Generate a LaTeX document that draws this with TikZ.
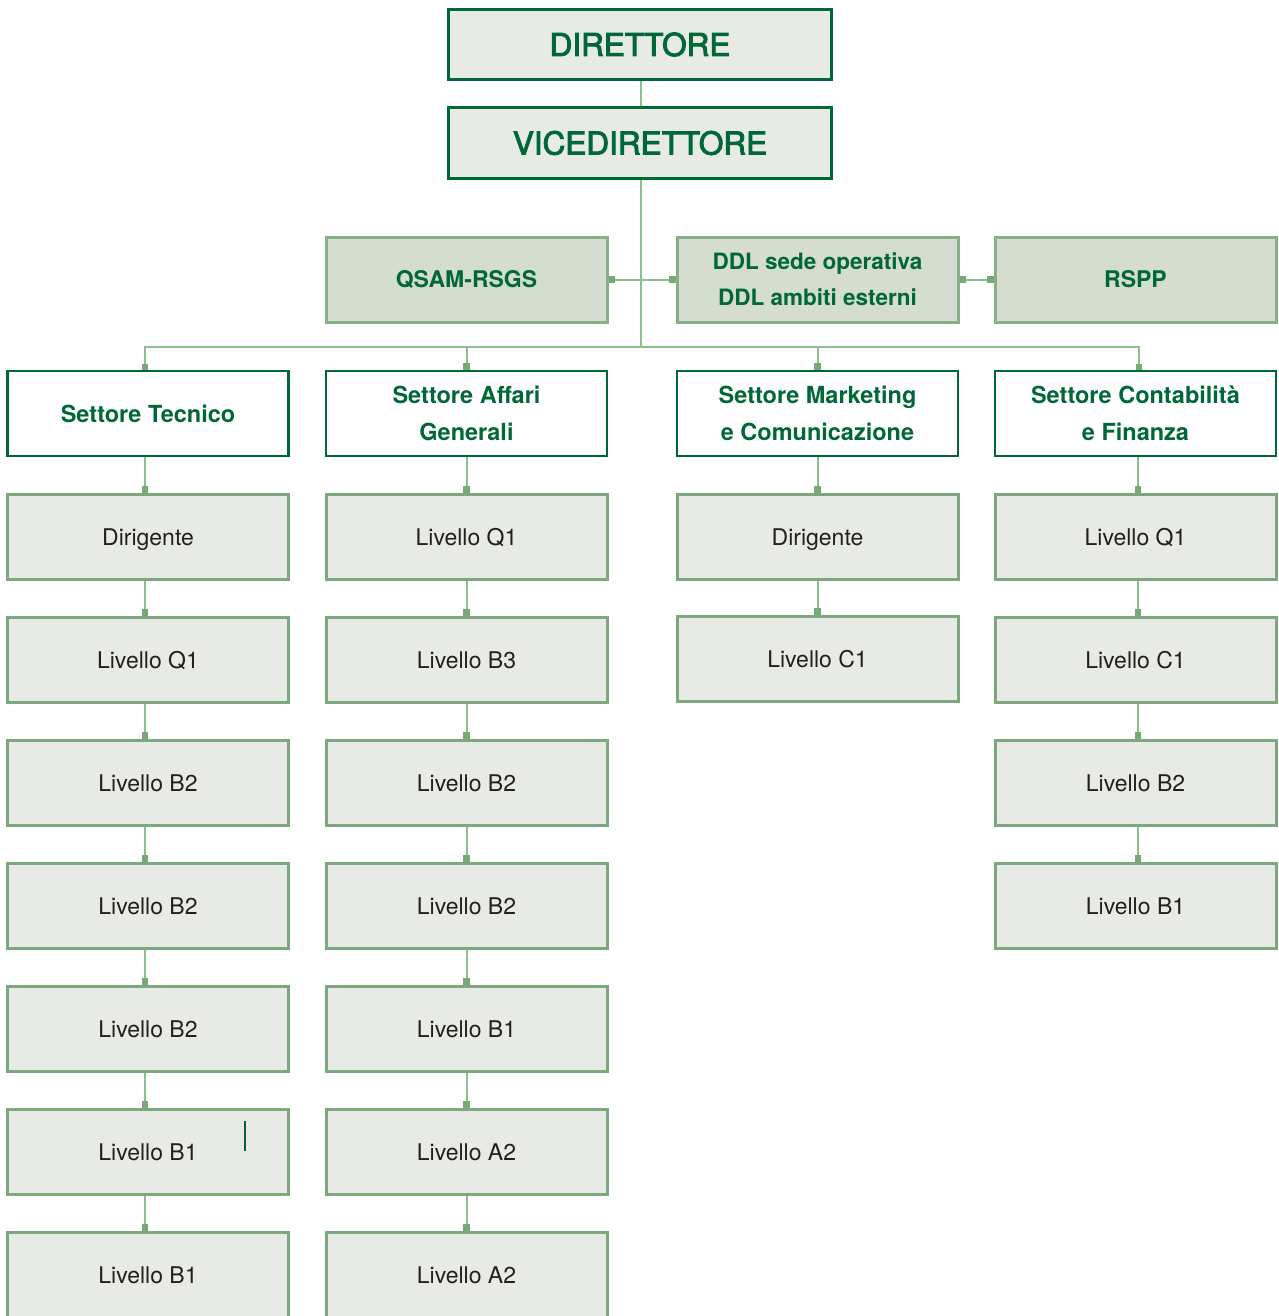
\documentclass[tikz,border=0pt]{standalone}
\usepackage{fontspec}
\setmainfont{TeX Gyre Heros}
\newfontfamily\medfont{TeX Gyre Heros}[FakeBold=3]
\usetikzlibrary{arrows.meta}
\definecolor{dkgreen}{HTML}{006837}
\definecolor{lngreen}{HTML}{8DBE8D}
\definecolor{sqgreen}{HTML}{76A976}
\definecolor{lvlborder}{HTML}{7DA77D}
\definecolor{lvlfill}{HTML}{E8EAE6}
\definecolor{stfill}{HTML}{D5DCD0}
\definecolor{stborder}{HTML}{88B088}
\definecolor{txtgray}{HTML}{231F20}
\tikzset{
  topbox/.style={draw=dkgreen, line width=3pt, fill=lvlfill, minimum width=383pt, inner sep=0pt,
    text=dkgreen, font=\medfont\fontsize{31.5}{36}\selectfont},
  staffbox/.style={draw=stborder, line width=3pt, fill=stfill, minimum width=281pt, minimum height=85pt,
    inner sep=0pt, text=dkgreen, align=center, font=\fontsize{23}{36}\selectfont\bfseries},
  secbox/.style={draw=dkgreen, line width=2.8pt, fill=white, minimum width=281pt, minimum height=85pt,
    inner sep=0pt, text=dkgreen, align=center, font=\fontsize{23.5}{37}\selectfont\bfseries},
  lvlbox/.style={draw=lvlborder, line width=3pt, fill=lvlfill, minimum width=281pt, minimum height=85pt,
    inner sep=0pt, text=txtgray, text height=17pt, text depth=0pt, font=\fontsize{23}{28}\selectfont},
  conn/.style={draw=lngreen, line width=2pt},
  sqend/.style={-{Square[length=6.5pt,width=6.5pt,color=sqgreen]}},
  sqboth/.style={{Square[length=6.5pt,width=6.5pt,color=sqgreen]}-{Square[length=6.5pt,width=6.5pt,color=sqgreen]}}
}
\begin{document}
\begin{tikzpicture}[x=1pt,y=-1pt]
\useasboundingbox (0,0) rectangle (1278,1316);
\clip (0,0) rectangle (1278,1316);
% top
\node[topbox, minimum height=70pt] (dir) at (640,44.5) {DIRETTORE};
\node[topbox, minimum height=71pt] (vice) at (640,143) {VICEDIRETTORE};
% staff
\node[staffbox] (qsam) at (466.5,279.5) {QSAM-RSGS};
\node[staffbox, font=\fontsize{22.5}{36}\selectfont\bfseries] (ddl) at (817.5,279.5) {DDL sede operativa\\DDL ambiti esterni};
\node[staffbox] (rspp) at (1135.5,279.5) {RSPP};
% sectors
\node[secbox] (s1) at (148,413.5) {Settore Tecnico};
\node[secbox] (s2) at (466.5,413.5) {Settore Affari\\Generali};
\node[secbox] (s3) at (817.5,413.5) {Settore Marketing\\e Comunicazione};
\node[secbox] (s4) at (1135.5,413.5) {Settore Contabilità\\e Finanza};
% column 1
\foreach \i/\t in {1/Dirigente,2/Livello Q1,3/Livello B2,4/Livello B2,5/Livello B2,6/Livello B1,7/Livello B1}
  \node[lvlbox] (a\i) at (148,{536.5+123*(\i-1)}) {\t};
% column 2
\foreach \i/\t in {1/Livello Q1,2/Livello B3,3/Livello B2,4/Livello B2,5/Livello B1,6/Livello A2,7/Livello A2}
  \node[lvlbox] (b\i) at (466.5,{536.5+123*(\i-1)}) {\t};
% column 3
\node[lvlbox] (c1) at (817.5,536.5) {Dirigente};
\node[lvlbox] (c2) at (817.5,658.5) {Livello C1};
% column 4
\foreach \i/\t in {1/Livello Q1,2/Livello C1,3/Livello B2,4/Livello B1}
  \node[lvlbox] (d\i) at (1135.5,{536.5+123*(\i-1)}) {\t};
% connectors
\coordinate (bus) at (641,347);
\draw[conn] (dir.south -| 641,0) -- (vice.north -| 641,0);
\draw[conn] (vice.south -| 641,0) -- (bus);
\draw[conn,sqboth] (qsam.east) -- (ddl.west);
\draw[conn,sqboth] (ddl.east) -- (rspp.west);
\draw[conn,sqend] (bus) -| (145,370) coordinate (t1);
\draw[conn,sqend] (bus) -| (s2.north);
\draw[conn,sqend] (bus) -| (s3.north);
\draw[conn,sqend] (bus) -| (1139,370) coordinate (t4);
\draw[conn,sqend] (s1.south -| 145,0) -- (a1.north -| 145,0);
\foreach \i [evaluate=\i as \j using int(\i+1)] in {1,...,6}
  \draw[conn,sqend] (a\i.south -| 145,0) -- (a\j.north -| 145,0);
\draw[conn,sqend] (s2.south) -- (b1.north);
\foreach \i [evaluate=\i as \j using int(\i+1)] in {1,...,6}
  \draw[conn,sqend] (b\i.south) -- (b\j.north);
\draw[conn,sqend] (s3.south) -- (c1.north);
\draw[conn,sqend] (c1.south) -- (c2.north);
\draw[conn,sqend] (s4.south -| 1138,0) -- (d1.north -| 1138,0);
\foreach \i [evaluate=\i as \j using int(\i+1)] in {1,...,3}
  \draw[conn,sqend] (d\i.south -| 1138,0) -- (d\j.north -| 1138,0);
% stray mark
\draw[dkgreen, line width=2.5pt] (245,1121) -- (245,1151);
\end{tikzpicture}
\end{document}
